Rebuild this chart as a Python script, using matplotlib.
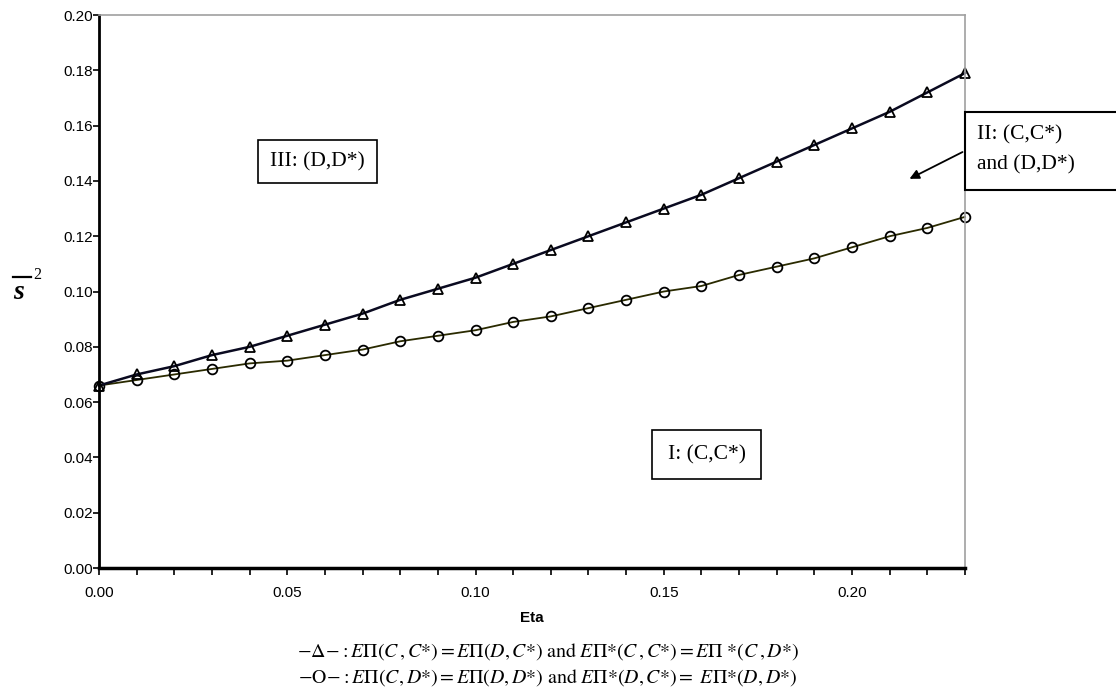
import numpy as np
import matplotlib.pyplot as plt
from matplotlib.patches import Rectangle
from matplotlib.lines import Line2D

plt.rcParams['font.family'] = ['Liberation Sans', 'DejaVu Sans']
plt.rcParams['mathtext.fontset'] = 'stix'

eta = [0.00, 0.01, 0.02, 0.03, 0.04, 0.05, 0.06, 0.07, 0.08, 0.09, 0.10, 0.11,
       0.12, 0.13, 0.14, 0.15, 0.16, 0.17, 0.18, 0.19, 0.20, 0.21, 0.22, 0.23]
s2_triangle = [0.066, 0.070, 0.073, 0.077, 0.080, 0.084, 0.088, 0.092, 0.097, 0.101,
               0.105, 0.110, 0.115, 0.120, 0.125, 0.130, 0.135, 0.141, 0.147, 0.153,
               0.159, 0.165, 0.172, 0.179]
s2_circle = [0.066, 0.068, 0.070, 0.072, 0.074, 0.075, 0.077, 0.079, 0.082, 0.084,
             0.086, 0.089, 0.091, 0.094, 0.097, 0.100, 0.102, 0.106, 0.109, 0.112,
             0.116, 0.120, 0.123, 0.127]

fig = plt.figure(figsize=(11.16, 6.95), dpi=100)
ax = fig.add_axes([0.0887, 0.1827, 0.7760, 0.7957])

ax.plot(eta, s2_circle, color='#2a2a00', linewidth=1.3, marker='o', markersize=7,
        markerfacecolor='none', markeredgecolor='black', markeredgewidth=1.3, clip_on=False)
ax.plot(eta, s2_triangle, color='#0a0a20', linewidth=1.8, marker='^', markersize=7,
        markerfacecolor='none', markeredgecolor='black', markeredgewidth=1.3, clip_on=False)

ax.set_xlim(0, 0.23)
ax.set_ylim(0, 0.20)
ax.set_xticks(np.arange(0, 0.231, 0.01), minor=True)
ax.set_xticks([0.00, 0.05, 0.10, 0.15, 0.20])
ax.set_xticklabels(['0.00', '0.05', '0.10', '0.15', '0.20'])
ax.set_yticks(np.arange(0, 0.201, 0.02))
ax.set_yticklabels(['%.2f' % v for v in np.arange(0, 0.201, 0.02)])
ax.tick_params(axis='both', which='both', direction='out', labelsize=11, width=1.2)
ax.tick_params(axis='x', which='major', length=5, pad=8)
ax.tick_params(axis='x', which='minor', length=5)
ax.tick_params(axis='y', length=4, pad=0)

ax.spines['left'].set_linewidth(2)
ax.spines['bottom'].set_linewidth(2.5)
ax.spines['top'].set_color('#a0a0a0')
ax.spines['right'].set_color('#a0a0a0')
ax.spines['top'].set_linewidth(1.2)
ax.spines['right'].set_linewidth(1.2)

ax.set_xlabel('Eta', fontweight='bold', fontsize=11, labelpad=8)

# y label: bold italic s with a bar and a squared sign
fig.text(0.0170, 0.5785, 's', fontsize=20, family='Liberation Serif', fontweight='bold',
         fontstyle='italic', ha='center', va='center')
fig.add_artist(Line2D([0.0120, 0.0280], [0.6010, 0.6010], color='black', linewidth=1.6))
fig.text(0.0330, 0.6040, '2', fontsize=11.5, family='Liberation Serif',
         ha='center', va='center')

box = dict(boxstyle='square,pad=0.55', facecolor='white', edgecolor='black', linewidth=1.2)
ax.text(0.0455, 0.147, 'III: (D,D*)', fontsize=15.5, family='Liberation Serif',
        va='center', bbox=box)
ax.text(0.151, 0.041, 'I: (C,C*)', fontsize=15.5, family='Liberation Serif',
        va='center', bbox=dict(boxstyle='square,pad=0.7', facecolor='white',
                               edgecolor='black', linewidth=1.2))

# box II runs off the right edge of the figure
fig.patches.append(Rectangle((0.8647, 0.7266), 0.2, 0.1122, transform=fig.transFigure,
                             facecolor='white', edgecolor='black', linewidth=1.5))
fig.text(0.8755, 0.8058, 'II: (C,C*)', fontsize=15.5, family='Liberation Serif', va='center')
fig.text(0.8755, 0.7626, 'and (D,D*)', fontsize=15.5, family='Liberation Serif', va='center')
ax.annotate('', xy=(0.2146, 0.1403), xytext=(0.23, 0.1509),
            arrowprops=dict(arrowstyle='-|>', color='black', lw=1.3, mutation_scale=14),
            annotation_clip=False)

line1 = (r'$-\Delta\!-\!: E\Pi(C\,,C{*}) = E\Pi(D,C{*})\ \mathrm{and}\ '
         r'E\Pi{*}(C\,,C{*}) = E\Pi\ {*}(C\,,D{*})$')
line2 = (r'$-\mathrm{O}\!-\!: E\Pi(C,D{*}) = E\Pi(D,D{*})\ \mathrm{and}\ '
         r'E\Pi{*}(D,C{*}) = \ E\Pi{*}(D,D{*})$')
fig.text(0.491, 0.062, line1, fontsize=14.3, ha='center', va='center')
fig.text(0.491, 0.025, line2, fontsize=14.3, ha='center', va='center')

fig.savefig('out.png', dpi=100)
